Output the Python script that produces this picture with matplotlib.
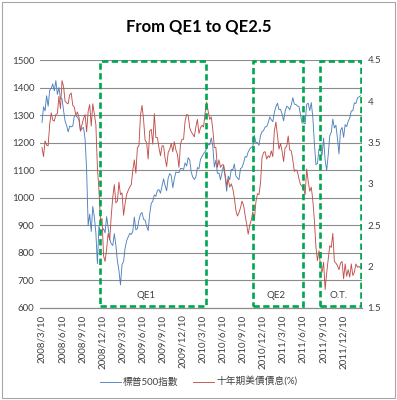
import pandas as pd
import matplotlib.pyplot as plt
import matplotlib.dates as mdates
from matplotlib.patches import Rectangle

plt.rcParams['font.family'] = ['Lato', 'Noto Sans CJK TC', 'DejaVu Sans']

# weekly closes, first week 2008/3/10
sp500 = [
    # 2008
    1273, 1330, 1315, 1370, 1332, 1390, 1397, 1413, 1388, 1425, 1375, 1400, 1360, 1360,
    1317, 1278, 1262, 1239, 1260, 1257, 1260, 1296, 1298, 1292, 1282, 1242, 1251, 1255,
    1213, 1099, 899, 940, 877, 968, 930, 873, 760, 896, 876, 879, 887, 872, 931,
    # 2009
    890, 850, 832, 826, 869, 827, 770, 735, 683, 756, 768, 816, 843, 857, 870, 866,
    877, 929, 883, 887, 919, 940, 946, 921, 918, 896, 880, 941, 979, 987, 1010, 1005,
    1026, 1029, 1016, 1042, 1068, 1044, 1025, 1071, 1087, 1080, 1036, 1069, 1093, 1091,
    1091, 1106, 1106, 1102, 1126, 1115,
    # 2010
    1145, 1136, 1092, 1074, 1066, 1075, 1109, 1105, 1139, 1150, 1160, 1167, 1178, 1194,
    1192, 1217, 1187, 1111, 1136, 1088, 1089, 1065, 1092, 1117, 1076, 1023, 1078, 1065,
    1102, 1102, 1122, 1079, 1071, 1065, 1105, 1110, 1126, 1149, 1147, 1166, 1176, 1183,
    1183, 1226, 1200, 1200, 1190, 1225, 1240, 1244, 1257, 1258,
    # 2011
    1272, 1293, 1283, 1276, 1310, 1330, 1343, 1320, 1321, 1304, 1279, 1313, 1332, 1328,
    1319, 1337, 1363, 1340, 1338, 1333, 1331, 1300, 1271, 1271, 1268, 1339, 1343, 1316,
    1345, 1292, 1199, 1120, 1124, 1177, 1174, 1154, 1216, 1136, 1099, 1155, 1224, 1238,
    1285, 1253, 1263, 1216, 1159, 1244, 1255, 1219, 1265, 1258,
    # 2012
    1278, 1289, 1315, 1316, 1344, 1342, 1362, 1366, 1370,
]

yield10 = [
    # 2008
    3.44, 3.33, 3.52, 3.47, 3.46, 3.72, 3.86, 3.77, 3.76, 3.84, 3.85, 4.06, 3.91, 4.25,
    4.18, 4.00, 3.98, 3.97, 4.08, 4.10, 3.95, 3.93, 3.83, 3.87, 3.81, 3.64, 3.72, 3.79,
    3.84, 3.63, 3.88, 3.96, 3.70, 3.97, 3.85, 3.72, 3.20, 2.93, 2.56, 2.58, 2.13, 2.06, 2.21,
    # 2009
    2.40, 2.32, 2.61, 2.84, 2.99, 2.77, 2.79, 3.02, 2.87, 2.89, 2.62, 2.76, 2.87, 2.92,
    2.96, 2.99, 3.16, 3.29, 3.13, 3.44, 3.46, 3.83, 3.95, 3.78, 3.53, 3.50, 3.30, 3.64,
    3.66, 3.48, 3.85, 3.56, 3.56, 3.44, 3.34, 3.46, 3.46, 3.31, 3.21, 3.38, 3.42, 3.49,
    3.39, 3.51, 3.41, 3.36, 3.20, 3.48, 3.54, 3.54, 3.76, 3.84,
    # 2010
    3.83, 3.68, 3.63, 3.60, 3.57, 3.69, 3.78, 3.61, 3.68, 3.71, 3.69, 3.86, 3.99, 3.88,
    3.78, 3.81, 3.66, 3.44, 3.44, 3.20, 3.29, 3.20, 3.23, 3.23, 3.11, 2.98, 3.06, 2.96,
    3.00, 2.94, 2.83, 2.68, 2.61, 2.65, 2.71, 2.79, 2.74, 2.62, 2.51, 2.39, 2.50, 2.56,
    2.66, 2.56, 2.78, 2.88, 2.87, 3.01, 3.32, 3.38, 3.39, 3.30,
    # 2011
    3.34, 3.32, 3.40, 3.33, 3.64, 3.75, 3.58, 3.42, 3.49, 3.40, 3.27, 3.44, 3.45, 3.58,
    3.41, 3.40, 3.29, 3.15, 3.17, 3.15, 3.06, 2.99, 2.97, 2.94, 2.87, 3.18, 3.03, 2.91,
    2.96, 2.80, 2.56, 2.24, 2.07, 2.19, 2.00, 1.93, 2.05, 1.72, 1.92, 2.08, 2.25, 2.23,
    2.40, 2.06, 2.04, 2.01, 1.96, 2.04, 2.06, 1.85, 2.03, 1.88,
    # 2012
    1.96, 1.87, 2.03, 1.89, 1.93, 2.03, 1.99, 2.00, 1.98,
]

dates = pd.date_range('2008-03-10', periods=len(sp500), freq='7D')

tick_dates = pd.date_range('2008-03-01', '2011-12-01', freq='3MS') + pd.Timedelta(days=9)
tick_labels = [f"{d.year}/{d.month}/{d.day}" for d in tick_dates]

# QE periods (start, end, label, label position)
periods = [
    ('2008-12-01', '2010-03-28', 'QE1', '2009-06-26'),
    ('2010-10-25', '2011-06-10', 'QE2', '2011-02-10'),
    ('2011-08-26', '2012-03-02', 'O.T.', '2011-11-17'),
]

fig = plt.figure(figsize=(3.97, 4.0), dpi=100)
fig.patches.append(Rectangle((0.004, 0.004), 0.992, 0.992, transform=fig.transFigure,
                             fill=False, ec='#a6a6a6', lw=0.8))
ax = fig.add_axes([0.1008, 0.2308, 0.8112, 0.6192])
ax2 = ax.twinx()

ax.plot(dates, sp500, color='#4f81bd', lw=0.65, label='標普500指數')
ax2.plot(dates, yield10, color='#c0504d', lw=0.65, label='十年期美債債息(%)')

ax.set_ylim(600, 1500)
ax.set_yticks(range(600, 1501, 100))
ax2.set_ylim(1.5, 4.5)
ax2.set_yticks([1.5, 2, 2.5, 3, 3.5, 4, 4.5])
ax2.set_yticklabels(['1.5', '2', '2.5', '3', '3.5', '4', '4.5'])
ax.set_xlim(pd.Timestamp('2008-03-01'), pd.Timestamp('2012-03-05'))
ax.set_xticks(tick_dates)
ax.set_xticklabels(tick_labels, rotation=90)

ax.grid(axis='y', color='#8c8c8c', lw=0.8)
ax.set_axisbelow(True)
for a in (ax, ax2):
    for s in ('top', 'left', 'right'):
        a.spines[s].set_visible(False)
    a.spines['bottom'].set_color('#8c8c8c')
    a.tick_params(length=0, labelsize=7, colors='#404040', pad=4)
ax.tick_params(axis='x', pad=5)

for start, end, name, lx in periods:
    x0 = mdates.date2num(pd.Timestamp(start))
    x1 = mdates.date2num(pd.Timestamp(end))
    ax2.add_patch(Rectangle((x0, 0.006), x1 - x0, 0.99, transform=ax2.get_xaxis_transform(),
                            fill=False, ec='#00a650', lw=1.9, ls=(0, (2.4, 1.3)), zorder=5))
    ax2.text(pd.Timestamp(lx), 0.048, name, transform=ax2.get_xaxis_transform(),
             ha='center', va='center', fontsize=7, color='#404040')

fig.text(0.5, 0.935, 'From QE1 to QE2.5', ha='center', va='center',
         fontsize=12, fontweight='bold', color='black')

h1, l1 = ax.get_legend_handles_labels()
h2, l2 = ax2.get_legend_handles_labels()
fig.legend(h1 + h2, l1 + l2, loc='center', bbox_to_anchor=(0.5, 0.045), ncol=2,
           frameon=False, fontsize=7, handlelength=2.2, handletextpad=0.2,
           columnspacing=1.5, labelcolor='#404040')

fig.savefig('out.png', dpi=100)
